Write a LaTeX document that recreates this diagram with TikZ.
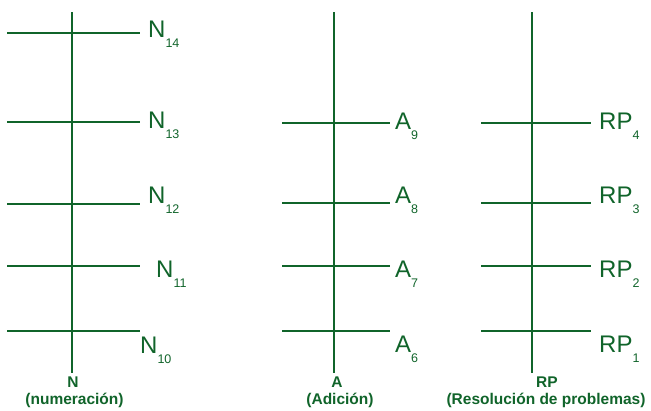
\documentclass[tikz,border=0pt]{standalone}
\usepackage{fontspec}
\setmainfont{Liberation Sans}
\definecolor{grn}{RGB}{16,100,42}
\newcommand\subtxt[1]{\raisebox{-10pt}{\fontsize{12.5}{12.5}\selectfont #1}}
\begin{document}
\begin{tikzpicture}[x=1pt,y=-1pt,
  axisline/.style={draw=grn,line width=2.3pt},
  lbl/.style={anchor=base west,inner sep=0pt,text=grn,font=\fontsize{24}{24}\selectfont},
  captxt/.style={anchor=base,inner sep=0pt,text=grn,font=\bfseries\fontsize{15.5}{15.5}\selectfont}]
\useasboundingbox (0,0) rectangle (651,410);
% vertical axes
\coordinate (Ntop) at (72,12);   \coordinate (Nbot) at (72,373);
\coordinate (Atop) at (334,12);  \coordinate (Abot) at (334,373);
\coordinate (Rtop) at (532,12);  \coordinate (Rbot) at (532,373);
\draw[axisline] (Ntop) -- (Nbot);
\draw[axisline] (Atop) -- (Abot);
\draw[axisline] (Rtop) -- (Rbot);
% horizontal ticks N
\foreach \n/\y in {14/33,13/122,12/204,11/266,10/331}{
  \coordinate (Nl\n) at (7,\y); \coordinate (Nr\n) at (140,\y);
  \draw[axisline] (Nl\n) -- (Nr\n);
}
% horizontal ticks A
\foreach \n/\y in {9/123,8/203,7/266,6/331}{
  \coordinate (Al\n) at (282,\y); \coordinate (Ar\n) at (390,\y);
  \draw[axisline] (Al\n) -- (Ar\n);
}
% horizontal ticks RP
\foreach \n/\y in {4/123,3/203,2/266,1/331}{
  \coordinate (Rl\n) at (481,\y); \coordinate (Rr\n) at (591,\y);
  \draw[axisline] (Rl\n) -- (Rr\n);
}
% labels
\node[lbl] (n14) at (148,37)  {N\subtxt{14}};
\node[lbl] (n13) at (148,128) {N\subtxt{13}};
\node[lbl] (n12) at (148,203) {N\subtxt{12}};
\node[lbl] (n11) at (156,277) {N\subtxt{11}};
\node[lbl] (n10) at (140,353) {N\subtxt{10}};
\node[lbl] (a9) at (395,129) {A\subtxt{9}};
\node[lbl] (a8) at (395,203) {A\subtxt{8}};
\node[lbl] (a7) at (395,277) {A\subtxt{7}};
\node[lbl] (a6) at (395,352) {A\subtxt{6}};
\node[lbl] (rp4) at (599,129) {RP\subtxt{4}};
\node[lbl] (rp3) at (599,203) {RP\subtxt{3}};
\node[lbl] (rp2) at (599,277) {RP\subtxt{2}};
\node[lbl] (rp1) at (599,352) {RP\subtxt{1}};
% captions
\node[captxt] (capN) at (73,387) {N};
\node[captxt] (capN2) at (74.5,404) {(numeración)};
\node[captxt] (capA) at (337,387) {A};
\node[captxt] (capA2) at (340,404) {(Adición)};
\node[captxt] (capR) at (547,387) {RP};
\node[captxt] (capR2) at (546,404) {(Resolución de problemas)};
\end{tikzpicture}
\end{document}
